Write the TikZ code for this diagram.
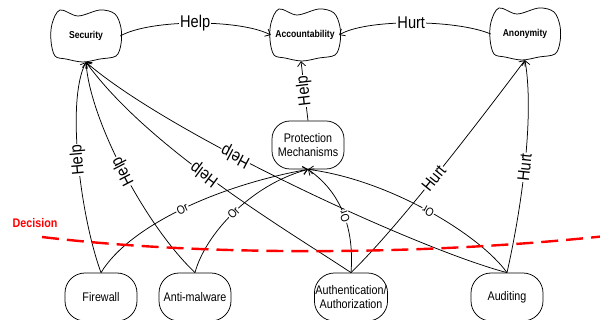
\documentclass[tikz,border=0pt]{standalone}
\usepackage{fontspec}
\newfontfamily\diagfont[FakeStretch=0.86]{Liberation Sans}
\usetikzlibrary{arrows.meta,calc}

\begin{document}
\begin{tikzpicture}[x=1pt,y=1pt,
  every node/.style={font=\diagfont},
  wire/.style={line width=0.75pt, -{Straight Barb[length=4.5pt,width=8pt]}},
  outline/.style={line width=0.75pt},
  goal/.style={minimum width=68pt, minimum height=52pt, inner sep=0pt,
    font=\diagfont\bfseries\fontsize{10}{12}\selectfont},
  task/.style={draw, line width=0.75pt, rounded corners=20pt,
    minimum width=72pt, minimum height=48pt, inner sep=1pt, align=center,
    font=\diagfont\fontsize{12.5}{14}\selectfont},
  mech/.style={task, rounded corners=18pt},
  toplab/.style={fill=white, inner sep=1pt, font=\diagfont\fontsize{17}{17}\selectfont},
  slab/.style={toplab, sloped, allow upside down},
  orlab/.style={fill=white, inner sep=0.8pt, sloped, allow upside down,
    font=\diagfont\fontsize{12}{12}\selectfont},
]
\useasboundingbox (0,0) rectangle (600,-320);

% soft goals
\node[goal] (sec) at (86,-36) {Security};
\node[goal] (acc) at (305,-35) {Accountability};
\node[goal] (ano) at (525,-34) {Anonymity};
\foreach \g in {sec,acc,ano}{
  \begin{scope}[shift={(\g)}]
    \draw[outline] plot[smooth cycle, tension=0.55] coordinates {
      (-26,26) (-8,20) (14,26) (29,22) (35,8) (35,-8) (30,-20)
      (14,-23) (-3,-26) (-20,-23) (-31,-20) (-35,-5) (-34,12)};
  \end{scope}
}

% mechanism and tasks
\node[mech] (pm) at (308,-145) {Protection\\Mechanisms};
\node[task] (fw) at (101,-297) {Firewall};
\node[task] (anti) at (195,-297) {Anti-malware};
\node[task] (auth) at (351,-297) {Authentication/\\Authorization};
\node[task] (aud) at (507,-297) {Auditing};

% contributions between soft goals
\draw[wire] (sec.east) .. controls (150,-19) and (240,-19) .. (acc.west)
  node[pos=0.5, toplab] {Help};
\draw[wire] (ano.west) .. controls (455,-19) and (365,-19) .. (acc.east)
  node[pos=0.5, toplab] {Hurt};
\draw[wire] (pm.north) -- ([xshift=-4pt]acc.south)
  node[midway, slab] {Help};

% contributions to Security
\draw[wire] (fw.north) .. controls (80,-215) and (66,-100) .. (sec.south)
  node[pos=0.5, slab] {Help};
\draw[wire] (anti.north) .. controls (145,-225) and (90,-120) .. (sec.south)
  node[pos=0.5, slab] {Help};
\draw[wire] (auth.north) .. controls (290,-232) and (150,-150) .. (sec.south)
  node[pos=0.55, slab] {Help};
\draw[wire] (aud.north) .. controls (420,-250) and (170,-135) .. (sec.south)
  node[pos=0.62, slab] {Help};

% decompositions of the mechanism
\draw[wire] (fw.north) .. controls (130,-225) and (220,-185) .. (pm.south)
  node[pos=0.5, orlab] {Or};
\draw[wire] (anti.north) .. controls (205,-235) and (250,-185) .. (pm.south)
  node[pos=0.5, orlab] {Or};
\draw[wire] (auth.north) .. controls (354,-235) and (345,-195) .. (pm.south)
  node[pos=0.5, orlab] {Or};
\draw[wire] (aud.north) .. controls (480,-235) and (390,-180) .. (pm.south)
  node[pos=0.5, orlab] {Or};

% contributions to Anonymity
\draw[wire] (auth.north) .. controls (400,-225) and (480,-120) .. (ano.south)
  node[pos=0.47, slab] {Hurt};
\draw[wire] (aud.north) .. controls (520,-215) and (535,-120) .. (ano.south)
  node[pos=0.5, slab] {Hurt};

% decision boundary
\node[text=red, font=\diagfont\bfseries\fontsize{12.5}{12.5}\selectfont] (dec) at (35,-223) {Decision};
\coordinate (decL) at (42,-237);
\coordinate (decR) at (606,-236);
\draw[red, line width=2.4pt, dash pattern=on 17pt off 8pt]
  (decL) .. controls (200,-256) and (420,-256) .. (decR);
\end{tikzpicture}
\end{document}
